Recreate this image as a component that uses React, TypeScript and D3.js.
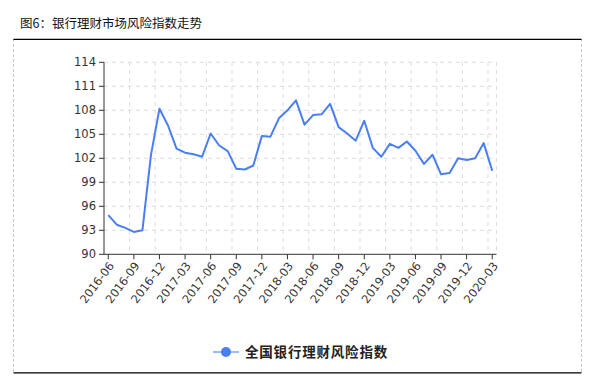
import React from "react";
import * as d3 from "d3";

const months: string[] = [
  "2016-06","2016-07","2016-08","2016-09","2016-10","2016-11","2016-12",
  "2017-01","2017-02","2017-03","2017-04","2017-05","2017-06","2017-07","2017-08","2017-09","2017-10","2017-11","2017-12",
  "2018-01","2018-02","2018-03","2018-04","2018-05","2018-06","2018-07","2018-08","2018-09","2018-10","2018-11","2018-12",
  "2019-01","2019-02","2019-03","2019-04","2019-05","2019-06","2019-07","2019-08","2019-09","2019-10","2019-11","2019-12",
  "2020-01","2020-02","2020-03",
];
const riskIndex: number[] = [
  94.9, 93.7, 93.3, 92.8, 93.0, 102.4, 108.2,
  106.1, 103.2, 102.7, 102.5, 102.2, 105.1, 103.6, 102.9, 100.7, 100.6, 101.1, 104.8,
  104.7, 107.0, 108.0, 109.25, 106.2, 107.4, 107.5, 108.8, 105.9, 105.1, 104.2, 106.7,
  103.3, 102.2, 103.8, 103.3, 104.1, 102.95, 101.3, 102.45, 100.0, 100.15, 102.0, 101.8,
  102.0, 103.9, 100.45,
];
const yTicks: number[] = [90, 93, 96, 99, 102, 105, 108, 111, 114];
const title = "图6：银行理财市场风险指数走势";
const seriesName = "全国银行理财风险指数";

export default function App() {
  const W = 595, H = 389;
  const left = 104, right = 496.5, top = 62.3, bottom = 254.3;
  const x = d3.scaleBand<string>().domain(months).range([left, right]).padding(0);
  const bw = x.bandwidth();
  const cx = (m: string) => (x(m) as number) + bw / 2;
  const y = d3.scaleLinear().domain([90, 114]).range([bottom, top]);
  const line = d3.line<number>().x((_, i) => cx(months[i])).y((d) => y(d));
  const tickMonths = months.filter((_, i) => i % 3 === 0);
  const gridX = [...tickMonths.map((m) => x(m) as number), right].filter((v) => v > left + 1);
  const blue = "#4a7ff3";
  const axisFont = "'DejaVu Sans', Verdana, sans-serif";

  return (
    <svg width={W} height={H} style={{ position: "absolute", left: 0, top: 0, background: "#fff" }}>
      <text x={20} y={28} fontSize={12.5} fill="#111" fontFamily="'Noto Sans CJK SC', sans-serif">{title}</text>
      {/* frame */}
      <line x1={13.5} x2={13.5} y1={39} y2={373} stroke="#c8c8c8" strokeDasharray="3,2" />
      <line x1={581.5} x2={581.5} y1={39} y2={373} stroke="#c8c8c8" strokeDasharray="3,2" />
      <line x1={13.5} x2={581.5} y1={39.3} y2={39.3} stroke="#000" strokeWidth={1.3} />
      <line x1={13.5} x2={581.5} y1={372.8} y2={372.8} stroke="#000" strokeWidth={1.3} />

      {/* grid */}
      {yTicks.filter((t) => t !== 90).map((t) => (
        <line key={"gy" + t} x1={left} x2={right} y1={y(t)} y2={y(t)} stroke="#dcdcdc" strokeDasharray="4,4" />
      ))}
      {gridX.map((gx, i) => (
        <line key={"gx" + i} x1={gx} x2={gx} y1={top} y2={bottom} stroke="#dcdcdc" strokeDasharray="4,4" />
      ))}

      {/* y axis */}
      <line x1={left} x2={left} y1={top} y2={bottom} stroke="#333" />
      {yTicks.map((t) => (
        <g key={"yt" + t}>
          <line x1={left - 5} x2={left} y1={y(t)} y2={y(t)} stroke="#333" />
          <text x={left - 8} y={y(t)} dy="0.36em" textAnchor="end" fontSize={11.5} fill="#333" fontFamily={axisFont}>{t}</text>
        </g>
      ))}

      {/* x axis */}
      <line x1={left} x2={right} y1={bottom} y2={bottom} stroke="#333" />
      {tickMonths.map((m) => (
        <g key={"xt" + m}>
          <line x1={cx(m)} x2={cx(m)} y1={bottom} y2={bottom + 5} stroke="#333" />
          <text
            transform={`translate(${cx(m) + 3},${bottom + 9}) rotate(-53)`}
            textAnchor="end"
            dy="0.36em"
            fontSize={11.5}
            fill="#333"
            fontFamily={axisFont}
          >{m}</text>
        </g>
      ))}

      {/* series */}
      <path d={line(riskIndex) || ""} fill="none" stroke={blue} strokeWidth={2} strokeLinejoin="round" />

      {/* legend */}
      <line x1={213} x2={239} y1={352} y2={352} stroke="#9db9f7" strokeWidth={2} />
      <circle cx={226} cy={352} r={5} fill={blue} />
      <text x={245} y={357} fontSize={13.5} fontWeight="bold" fill="#222" fontFamily="'Noto Sans CJK SC', sans-serif" letterSpacing={0.8}>{seriesName}</text>
    </svg>
  );
}
